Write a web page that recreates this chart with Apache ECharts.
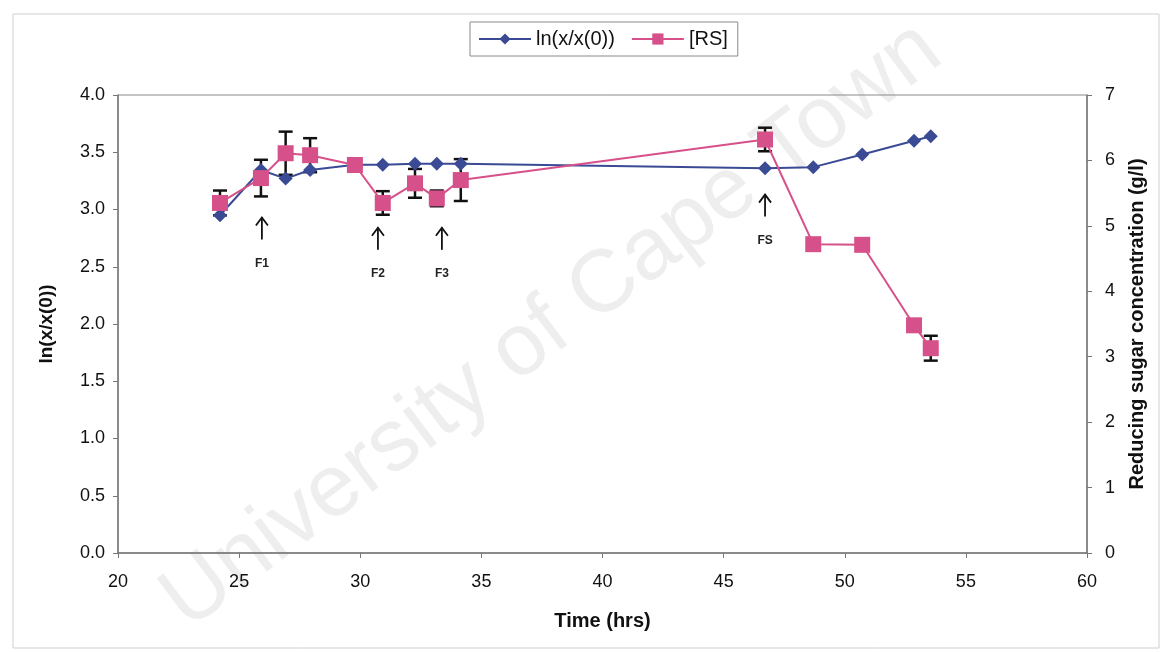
<!DOCTYPE html>
<html>
<head>
<meta charset="utf-8">
<script src="https://cdn.jsdelivr.net/npm/echarts@6/dist/echarts.min.js"></script>
<style>html,body{margin:0;padding:0;background:#fff}#c{width:1165px;height:652px}</style>
</head>
<body>
<div id="c"></div>
<script>
// ---- data ----
const timeHrs = [24.21, 25.9, 26.92, 27.93, 29.78, 30.93, 32.26, 33.16, 34.15, 46.71, 48.70, 50.72, 52.86, 53.55];
const lnX = [2.95, 3.345, 3.27, 3.345, 3.39, 3.39, 3.40, 3.40, 3.40, 3.36, 3.37, 3.48, 3.60, 3.64];
const rsConc = [5.35, 5.73, 6.11, 6.08, 5.93, 5.35, 5.65, 5.42, 5.70, 6.32, 4.72, 4.71, 3.48, 3.13];
const rsErr = [0.19, 0.28, 0.33, 0.26, 0, 0.18, 0.22, 0.12, 0.32, 0.18, 0, 0.08, 0, 0.19];
const annoLabels = ['F1', 'F2', 'F3', 'FS'];
const annoX = [25.94, 30.73, 33.37, 46.71];
const annoY = [2.93, 2.84, 2.84, 3.13];
const xTicks = [20, 25, 30, 35, 40, 45, 50, 55, 60];

const FONT = '"Liberation Sans", Arial, sans-serif';
const BLUE = '#3a4a94';
const PINK = '#d6508a';

const chart = echarts.init(document.getElementById('c'));
chart.setOption({
  animation: false,
  backgroundColor: '#fff',
  graphic: [
    { type: 'rect', z: -10, shape: { x: 13, y: 14, width: 1146, height: 634 }, style: { fill: null, stroke: '#cfcfcf', lineWidth: 1 } },
    { type: 'text', z: -5, x: 552, y: 326, rotation: 37 * Math.PI / 180,
      style: { text: 'University of Cape Town', font: '88px ' + FONT, fill: '#eeeeee', align: 'center', verticalAlign: 'middle' } }
  ],
  legend: {
    top: 22, left: 470,
    itemWidth: 52, itemHeight: 14, itemGap: 16,
    borderColor: '#8a8a8a', borderWidth: 1, padding: [7, 10, 7, 8],
    textStyle: { fontFamily: FONT, fontSize: 20, color: '#111' },
    data: ['ln(x/x(0))', '[RS]']
  },
  grid: { left: 118, right: 78, top: 95, bottom: 99, show: true, borderColor: '#8a8a8a', borderWidth: 1 },
  xAxis: {
    type: 'value', min: 20, max: 60, interval: 5,
    name: 'Time (hrs)', nameLocation: 'middle', nameGap: 58,
    nameTextStyle: { fontFamily: FONT, fontSize: 20, fontWeight: 'bold', color: '#111' },
    axisLine: { lineStyle: { color: '#777', width: 1.5 } },
    axisTick: { show: true, length: 5, lineStyle: { color: '#777' } },
    axisLabel: { fontFamily: FONT, fontSize: 18, color: '#111', margin: 20,
      customValues: xTicks },
    splitLine: { show: false }
  },
  yAxis: [
    {
      type: 'value', min: 0, max: 4, interval: 0.5, position: 'left',
      name: 'ln(x/x(0))', nameLocation: 'middle', nameGap: 62, nameRotate: 90,
      nameTextStyle: { fontFamily: FONT, fontSize: 19, fontWeight: 'bold', color: '#111' },
      axisLine: { show: true, lineStyle: { color: '#777', width: 1.5 } },
      axisTick: { show: true, length: 5, lineStyle: { color: '#777' } },
      axisLabel: { fontFamily: FONT, fontSize: 18, color: '#111', margin: 13, formatter: v => v.toFixed(1) },
      splitLine: { show: false }
    },
    {
      type: 'value', min: 0, max: 7, interval: 1, position: 'right',
      name: 'Reducing sugar concentration (g/l)', nameLocation: 'middle', nameGap: 40, nameRotate: 90,
      nameTextStyle: { fontFamily: FONT, fontSize: 20, fontWeight: 'bold', color: '#111', padding: [0, 0, 0, 0] },
      axisLine: { show: true, lineStyle: { color: '#777', width: 1.5 } },
      axisTick: { show: true, length: 5, lineStyle: { color: '#777' } },
      axisLabel: { fontFamily: FONT, fontSize: 18, color: '#111', margin: 18 },
      splitLine: { show: false }
    }
  ],
  series: [
    {
      name: 'RS error', type: 'custom', yAxisIndex: 1, z: 1, silent: true,
      data: timeHrs.map((t, i) => [t, rsConc[i], rsErr[i]]),
      renderItem: (params, api) => {
        const e = api.value(2);
        if (!e) return null;
        const top = api.coord([api.value(0), api.value(1) + e]);
        const bot = api.coord([api.value(0), api.value(1) - e]);
        const w = 7;
        const st = { stroke: '#111', lineWidth: 2.5 };
        return { type: 'group', children: [
          { type: 'line', shape: { x1: top[0], y1: top[1], x2: bot[0], y2: bot[1] }, style: st },
          { type: 'line', shape: { x1: top[0] - w, y1: top[1], x2: top[0] + w, y2: top[1] }, style: st },
          { type: 'line', shape: { x1: bot[0] - w, y1: bot[1], x2: bot[0] + w, y2: bot[1] }, style: st }
        ] };
      }
    },
    {
      name: 'ln(x/x(0))', type: 'line', yAxisIndex: 0, z: 3,
      data: timeHrs.map((t, i) => [t, lnX[i]]),
      symbol: 'diamond', symbolSize: 14, showAllSymbol: true,
      itemStyle: { color: BLUE }, lineStyle: { color: BLUE, width: 2 }
    },
    {
      name: '[RS]', type: 'line', yAxisIndex: 1, z: 4,
      data: timeHrs.map((t, i) => [t, rsConc[i]]),
      symbol: 'rect', symbolSize: 16, showAllSymbol: true,
      itemStyle: { color: PINK }, lineStyle: { color: PINK, width: 2 }
    },
    {
      name: 'annotations', type: 'custom', yAxisIndex: 0, z: 5, silent: true,
      data: annoX.map((x, i) => [x, annoY[i]]),
      renderItem: (params, api) => {
        const p = api.coord([api.value(0), api.value(1)]);
        const L = 22;
        const st = { stroke: '#111', lineWidth: 1.8, fill: null };
        return { type: 'group', children: [
          { type: 'line', shape: { x1: p[0], y1: p[1], x2: p[0], y2: p[1] + L }, style: st },
          { type: 'polyline', shape: { points: [[p[0] - 6, p[1] + 8], [p[0], p[1]], [p[0] + 6, p[1] + 8]] }, style: st },
          { type: 'text', style: { text: annoLabels[params.dataIndex], x: p[0], y: p[1] + L + 24,
            align: 'center', verticalAlign: 'middle', font: 'bold 12px ' + FONT, fill: '#222' } }
        ] };
      }
    }
  ]
});
</script>
</body>
</html>
